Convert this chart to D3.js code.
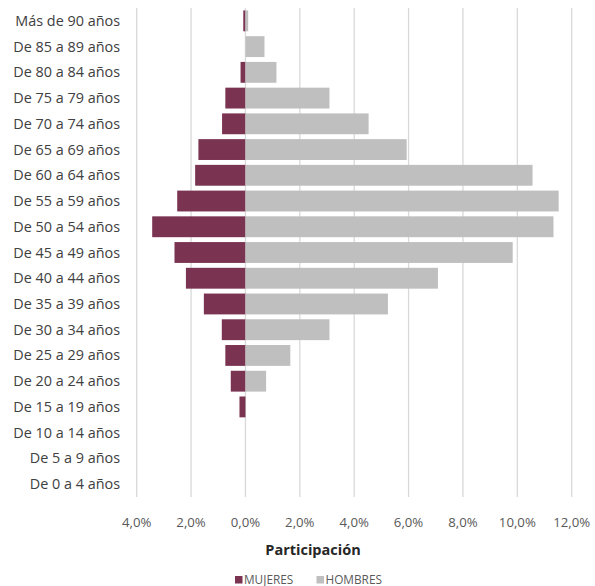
<!DOCTYPE html>
<html><head><meta charset="utf-8">
<script src="https://cdn.jsdelivr.net/npm/d3@7"></script>
<style>body{margin:0;background:#fff}svg{display:block}</style>
</head><body>
<svg id="c" width="595" height="586"></svg>
<script>
const categories = ["Más de 90 años","De 85 a 89 años","De 80 a 84 años","De 75 a 79 años","De 70 a 74 años","De 65 a 69 años","De 60 a 64 años","De 55 a 59 años","De 50 a 54 años","De 45 a 49 años","De 40 a 44 años","De 35 a 39 años","De 30 a 34 años","De 25 a 29 años","De 20 a 24 años","De 15 a 19 años","De 10 a 14 años","De 5 a 9 años","De 0 a 4 años"];
const mujeres = [0.08,0,0.18,0.74,0.86,1.73,1.85,2.51,3.43,2.61,2.19,1.53,0.87,0.74,0.54,0.22,0,0,0];
const hombres = [0.1,0.7,1.14,3.09,4.53,5.93,10.56,11.52,11.33,9.83,7.08,5.24,3.09,1.65,0.76,0,0,0,0];
const ticks = [-4,-2,0,2,4,6,8,10,12];
const seriesNames = ["MUJERES","HOMBRES"];
const colors = {MUJERES:"#7a3350", HOMBRES:"#bfbfbf"};

const svg = d3.select("#c");
const font = "'Open Sans', sans-serif";
const x = d3.scaleLinear().domain([-4,12]).range([136.7,571.7]);
const y = d3.scaleBand().domain(categories).range([8,497]).paddingInner(0.19).paddingOuter(0.095);

// gridlines
svg.append("g").selectAll("line").data(ticks).join("line")
  .attr("x1",d=>x(d)).attr("x2",d=>x(d)).attr("y1",8).attr("y2",497)
  .attr("stroke","#d9d9d9").attr("stroke-width",1.3);

// bars
svg.append("g").selectAll("rect").data(categories).join("rect")
  .attr("x",(d,i)=>x(-mujeres[i])).attr("width",(d,i)=>x(0)-x(-mujeres[i]))
  .attr("y",d=>y(d)).attr("height",y.bandwidth()).attr("fill",colors.MUJERES);
svg.append("g").selectAll("rect").data(categories).join("rect")
  .attr("x",x(0)).attr("width",(d,i)=>x(hombres[i])-x(0))
  .attr("y",d=>y(d)).attr("height",y.bandwidth()).attr("fill",colors.HOMBRES);

// category labels
svg.append("g").selectAll("text").data(categories).join("text")
  .attr("x",120).attr("y",d=>y(d)+y.bandwidth()/2).attr("dy","0.35em")
  .attr("text-anchor","end").attr("font-family",font).attr("font-size",14.4)
  .attr("fill","#404040").text(d=>d);

// x tick labels
const fmt = d => Math.abs(d).toFixed(1).replace(".",",")+"%";
svg.append("g").selectAll("text").data(ticks).join("text")
  .attr("x",d=>x(d)).attr("y",522).attr("dy","0.35em").attr("text-anchor","middle")
  .attr("font-family",font).attr("font-size",13.2).attr("fill","#595959").text(fmt);

svg.append("text").attr("x",313).attr("y",550).attr("dy","0.35em").attr("text-anchor","middle")
  .attr("font-family",font).attr("font-size",14.5).attr("font-weight","bold").attr("fill","#262626")
  .text("Participación");

// legend
const leg = svg.append("g").selectAll("g").data(seriesNames).join("g")
  .attr("transform",(d,i)=>`translate(${[235,316.5][i]},580)`);
leg.append("rect").attr("x",0).attr("y",-4).attr("width",7.5).attr("height",7.5).attr("fill",d=>colors[d]);
leg.append("text").attr("x",9).attr("y",0).attr("dy","0.35em").attr("font-family",font)
  .attr("font-size",11.8).attr("fill","#595959").text(d=>d);
</script>
</body></html>
